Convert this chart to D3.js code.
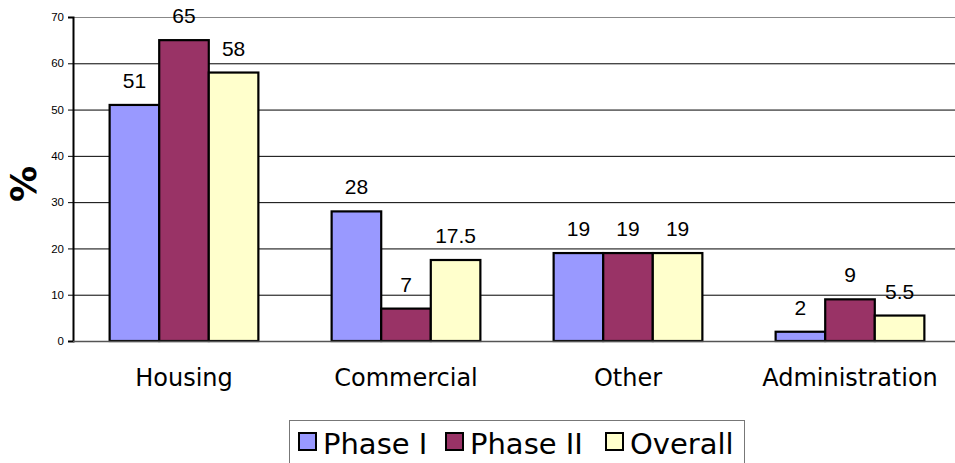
<!DOCTYPE html>
<html>
<head>
<meta charset="utf-8">
<script src="https://cdn.jsdelivr.net/npm/d3@7"></script>
<style>
  body { margin: 0; background: #fff; }
  svg { display: block; }
</style>
</head>
<body>
<div id="chart"></div>
<script>
// data
var categories = ["Housing", "Commercial", "Other", "Administration"];
var seriesNames = ["Phase I", "Phase II", "Overall"];
var phase1 = [51, 28, 19, 2];
var phase2 = [65, 7, 19, 9];
var overall = [58, 17.5, 19, 5.5];
var yTicks = [0, 10, 20, 30, 40, 50, 60, 70];

var colors = ["#9999ff", "#993366", "#ffffcc"];

var width = 955;
var height = 463;

// plot box (right side runs off the picture a little)
var plotLeft = 73, plotRight = 961, plotTop = 17, plotBottom = 341;

var svg = d3.select("#chart")
  .append("svg")
  .attr("width", width)
  .attr("height", height);

// build rows for the bars
var allSeries = [phase1, phase2, overall];
var rows = [];
categories.forEach(function(c, i) {
  allSeries.forEach(function(s, j) {
    rows.push({ cat: c, series: seriesNames[j], value: s[i], idx: j });
  });
});

var x0 = d3.scaleBand()
  .domain(categories)
  .range([plotLeft, plotRight])
  .paddingInner(0.33)
  .paddingOuter(0.165);

var x1 = d3.scaleBand()
  .domain(seriesNames)
  .range([0, x0.bandwidth()]);

var y = d3.scaleLinear()
  .domain([0, 70])
  .range([plotBottom, plotTop]);

// gridlines
svg.append("g")
  .selectAll("line")
  .data(yTicks.filter(function(t) { return t > 0; }))
  .enter()
  .append("line")
  .attr("x1", plotLeft)
  .attr("x2", width)
  .attr("y1", function(d) { return y(d) + 0.5; })
  .attr("y2", function(d) { return y(d) + 0.5; })
  .attr("stroke", function(d) { return d === 70 ? "#888" : "#000"; })
  .attr("stroke-width", 1);

// y axis
var yAxis = d3.axisLeft(y).tickValues(yTicks).tickSize(5).tickPadding(4);
var yg = svg.append("g")
  .attr("transform", "translate(" + plotLeft + ",0)")
  .call(yAxis);
yg.select(".domain").attr("stroke", "#000").attr("stroke-width", 2);
yg.selectAll(".tick line").attr("stroke", "#000");
yg.selectAll(".tick text")
  .attr("font-family", "Liberation Sans, Arial, sans-serif")
  .attr("font-size", 11.5)
  .attr("fill", "#000");

// bars
svg.append("g")
  .selectAll("rect")
  .data(rows)
  .enter()
  .append("rect")
  .attr("x", function(d) { return x0(d.cat) + x1(d.series); })
  .attr("y", function(d) { return y(d.value); })
  .attr("width", x1.bandwidth())
  .attr("height", function(d) { return y(0) - y(d.value); })
  .attr("fill", function(d) { return colors[d.idx]; })
  .attr("stroke", "#000")
  .attr("stroke-width", 2.2);

// baseline
svg.append("line")
  .attr("x1", plotLeft)
  .attr("x2", width)
  .attr("y1", y(0) + 0.5)
  .attr("y2", y(0) + 0.5)
  .attr("stroke", "#555")
  .attr("stroke-width", 1.5);

// value labels
svg.append("g")
  .selectAll("text")
  .data(rows)
  .enter()
  .append("text")
  .attr("x", function(d) { return x0(d.cat) + x1(d.series) + x1.bandwidth() / 2; })
  .attr("y", function(d) { return y(d.value) - 17; })
  .attr("text-anchor", "middle")
  .attr("font-family", "Liberation Sans, Arial, sans-serif")
  .attr("font-size", 21)
  .attr("fill", "#000")
  .text(function(d) { return d.value; });

// category labels
svg.append("g")
  .selectAll("text")
  .data(categories)
  .enter()
  .append("text")
  .attr("x", function(d) { return x0(d) + x0.bandwidth() / 2; })
  .attr("y", 386)
  .attr("text-anchor", "middle")
  .attr("font-family", "DejaVu Sans, Verdana, sans-serif")
  .attr("font-size", 24)
  .attr("fill", "#000")
  .text(function(d) { return d; });

// y title
svg.append("text")
  .attr("transform", "translate(36,184) rotate(-90)")
  .attr("text-anchor", "middle")
  .attr("font-family", "DejaVu Sans, sans-serif")
  .attr("font-weight", "bold")
  .attr("font-size", 36)
  .text("%");

// legend
var legend = svg.append("g");
legend.append("rect")
  .attr("x", 289.5)
  .attr("y", 420.5)
  .attr("width", 455)
  .attr("height", 60)
  .attr("fill", "#fff")
  .attr("stroke", "#777")
  .attr("stroke-width", 1);

var legendX = [299, 446, 606];
seriesNames.forEach(function(name, i) {
  legend.append("rect")
    .attr("x", legendX[i])
    .attr("y", 433)
    .attr("width", 17)
    .attr("height", 17)
    .attr("fill", colors[i])
    .attr("stroke", "#000")
    .attr("stroke-width", 2);
  legend.append("text")
    .attr("x", legendX[i] + 24)
    .attr("y", 454)
    .attr("font-family", "DejaVu Sans, Verdana, sans-serif")
    .attr("font-size", 29)
    .attr("fill", "#000")
    .text(name);
});
</script>
</body>
</html>
